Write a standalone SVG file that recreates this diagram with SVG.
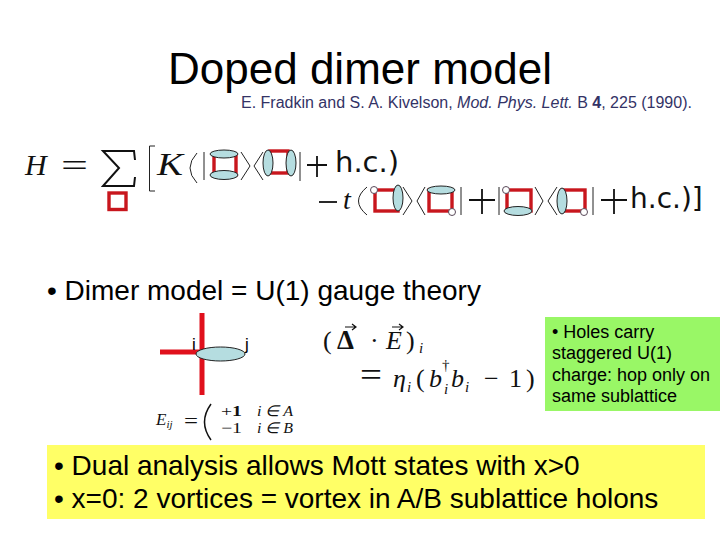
<svg xmlns="http://www.w3.org/2000/svg" width="720" height="540" viewBox="0 0 720 540">
<style>
.s{font-family:"Liberation Sans",Arial,sans-serif;fill:#000}
.m{font-family:"Liberation Serif","Times New Roman",serif;fill:#111}
.i{font-style:italic}
.d{font-family:"DejaVu Sans",sans-serif;fill:#111}
.r{fill:none;stroke:#c8161d;stroke-width:3.400}
.e{fill:#b5dde0;stroke:#222;stroke-width:1}
.h{fill:#fff;stroke:#5a4a5a;stroke-width:1}
.l{fill:none;stroke:#222;stroke-width:1}
.p{fill:none;stroke:#111;stroke-width:1.800}
</style>
<rect width="720" height="540" fill="#fff"/>
<g id="title"><text class="s" x="168" y="84" font-size="44">Doped dimer model</text></g>
<g id="citation"><text class="s" x="241" y="108" font-size="16" style="fill:#333366">E. Fradkin and S. A. Kivelson, <tspan font-style="italic">Mod. Phys. Lett.</tspan> B <tspan font-weight="bold">4</tspan>, 225 (1990).</text></g>
<g id="hamiltonian">
<text class="m i" x="25" y="175" font-size="30">H</text>
<text class="m" x="61" y="176" font-size="32" textLength="27" lengthAdjust="spacingAndGlyphs">=</text>
<path d="M135 160 L134 151 L103 151 L119 168 L103 186 L134 186 L135 177" fill="none" stroke="#111" stroke-width="2"/>
<rect class="r" x="109" y="193" width="17" height="16.500"/>
<path class="l" d="M155 146H149.500V191H155" stroke-width="1.500"/>
<text class="m i" x="157" y="175" font-size="32" textLength="26" lengthAdjust="spacingAndGlyphs">K</text>
<path class="l" d="M197 153Q183 168 197 183" stroke-width="1.800"/>
<path class="l" d="M204 152V180M241 152L250 166L241 180M263 152L254 166L263 180M300 152V181"/>
<rect class="r" x="214" y="155" width="22" height="20"/>
<ellipse class="e" cx="224" cy="154" rx="14" ry="4"/>
<ellipse class="e" cx="224" cy="175" rx="14" ry="4.500"/>
<rect class="r" x="270" y="151" width="18" height="22"/>
<ellipse class="e" cx="268" cy="163" rx="5" ry="13"/>
<ellipse class="e" cx="291" cy="163" rx="5" ry="13"/>
<path class="p" d="M307 165H327M317 156V177"/>
<text class="d" x="335" y="172" font-size="29">h.c.)</text>
<path class="p" d="M319 202H337"/>
<text class="m i" x="343" y="209" font-size="28">t</text>
<path class="l" d="M367 187Q350 201 367 215" stroke-width="1.800"/>
<rect class="r" x="375" y="190" width="23" height="21"/>
<ellipse class="e" cx="398" cy="198" rx="5" ry="13"/>
<circle class="h" cx="374" cy="190" r="3.500"/>
<path class="l" d="M403 187L412 201L403 215M425 187L417 201L425 215M461 187V215"/>
<rect class="r" x="429" y="190" width="23" height="21"/>
<ellipse class="e" cx="441" cy="190" rx="14" ry="4"/>
<circle class="h" cx="452" cy="212" r="3.500"/>
<path class="p" d="M469 200H495M482 189V214"/>
<path class="l" d="M499 187V215M535 187L543 201L535 215M557 187L548 201L557 215M593 187V215"/>
<rect class="r" x="507" y="190" width="24" height="21"/>
<ellipse class="e" cx="518" cy="211" rx="14" ry="4.500"/>
<circle class="h" cx="506" cy="190" r="3.500"/>
<rect class="r" x="563" y="190" width="22" height="21"/>
<ellipse class="e" cx="562" cy="201" rx="5" ry="13"/>
<circle class="h" cx="584" cy="212" r="3.500"/>
<path class="p" d="M601 200H627M614 189V214"/>
<text class="d" x="630" y="208" font-size="28">h.c.)]</text>
</g>
<g id="bullet1"><text class="s" x="47" y="300" font-size="28">• Dimer model = U(1) gauge theory</text></g>
<g id="lattice">
<path d="M202 313V395M160 352H202" fill="none" stroke="#e0101c" stroke-width="5"/>
<ellipse class="e" cx="220.500" cy="354" rx="24.500" ry="7"/>
<text class="s" x="192" y="350" font-size="17">i</text>
<text class="s" x="245" y="350" font-size="17">j</text>
</g>
<g id="eij">
<text class="m i" x="156" y="425" font-size="17">E<tspan font-size="11" dy="3">ij</tspan></text>
<text class="m" x="184" y="428" font-size="20" textLength="14" lengthAdjust="spacingAndGlyphs">=</text>
<path d="M211 404Q198 422 211 440" fill="none" stroke="#111" stroke-width="1.500"/>
<text class="m" x="221" y="416" font-size="15" textLength="21" lengthAdjust="spacingAndGlyphs">+<tspan font-weight="bold">1</tspan></text>
<text class="m" x="221" y="433" font-size="15" textLength="21" lengthAdjust="spacingAndGlyphs">−1</text>
<text class="m i" x="257" y="416" font-size="15" textLength="36" lengthAdjust="spacingAndGlyphs">i ∈ A</text>
<text class="m i" x="257" y="433" font-size="15" textLength="36" lengthAdjust="spacingAndGlyphs">i ∈ B</text>
</g>
<g id="gauss">
<text class="m" x="323" y="349" font-size="26">(</text>
<text class="m" x="337" y="349" font-size="27" font-weight="bold">Δ</text>
<text class="m" x="370" y="349" font-size="26">·</text>
<text class="m i" x="386" y="349" font-size="26">E</text>
<text class="m" x="406" y="349" font-size="26">)</text>
<text class="m i" x="419" y="353" font-size="15">i</text>
<path d="M345 327H356M352 324L356 327L352 330M392 327H403M399 324L403 327L399 330" fill="none" stroke="#111" stroke-width="1.200"/>
<text class="m" x="360" y="386" font-size="34" textLength="22" lengthAdjust="spacingAndGlyphs">=</text>
<text class="m i" x="393" y="387" font-size="26">η</text>
<text class="m i" x="407" y="392" font-size="15">i</text>
<text class="m" x="416" y="387" font-size="26">(</text>
<text class="m i" x="429" y="387" font-size="26">b</text>
<text class="m" x="442" y="370" font-size="15">†</text>
<text class="m i" x="444" y="394" font-size="15">i</text>
<text class="m i" x="451" y="387" font-size="26">b</text>
<text class="m i" x="465" y="392" font-size="15">i</text>
<text class="m" x="484" y="387" font-size="26">−</text>
<text class="m" x="509" y="387" font-size="26">1</text>
<text class="m" x="526" y="387" font-size="26">)</text>
</g>
<g id="holes-note">
<rect x="545" y="317" width="175" height="94" fill="#99f766"/>
<text class="s" font-size="18"><tspan x="552" y="338">• Holes carry</tspan><tspan x="552" y="359">staggered U(1)</tspan><tspan x="552" y="381">charge: hop only on</tspan><tspan x="552" y="402">same sublattice</tspan></text>
</g>
<g id="dual-note">
<rect x="47" y="445" width="658" height="74" fill="#ffff66"/>
<text class="s" font-size="28"><tspan x="54" y="475">• Dual analysis allows Mott states with x&gt;0</tspan><tspan x="54" y="508">• x=0: 2 vortices = vortex in A/B sublattice holons</tspan></text>
</g>
</svg>
